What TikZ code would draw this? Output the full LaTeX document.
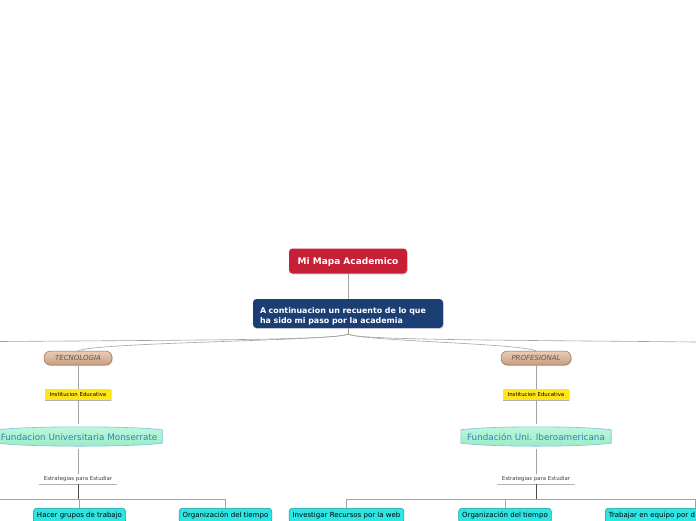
\documentclass[tikz,border=0pt]{standalone}
\usepackage{fontspec}
\setmainfont{DejaVu Sans}
\usetikzlibrary{calc,shadows}
\definecolor{titlered}{HTML}{C61F36}
\definecolor{introblue}{HTML}{1B3E74}
\definecolor{tantop}{HTML}{ECCDB5}
\definecolor{tanbot}{HTML}{C79E80}
\definecolor{tanline}{HTML}{8C6B57}
\definecolor{yel}{HTML}{FFE619}
\definecolor{minttop}{HTML}{BDF8DC}
\definecolor{mintbot}{HTML}{9CEAC6}
\definecolor{mintline}{HTML}{7CC3E0}
\definecolor{minttext}{HTML}{2A86B6}
\definecolor{cyanfill}{HTML}{2BE6E3}
\definecolor{cyanline}{HTML}{1E9A9E}
\definecolor{conngray}{HTML}{A3A3A3}
\begin{document}
\begin{tikzpicture}[x=1pt,y=-1pt,
  shad/.style={drop shadow={opacity=0.25,shadow xshift=0.8pt,shadow yshift=-1pt}},
  titlebox/.style={shad,fill=titlered,rounded corners=3.5pt,text=white,font=\fontsize{9}{11}\selectfont\bfseries,minimum width=118pt,minimum height=25pt,inner sep=0pt,text depth=0pt},
  introbox/.style={shad,fill=introblue,rounded corners=3.5pt,text=white,font=\fontsize{7.9}{10}\selectfont\bfseries,text width=176pt,align=left,inner xsep=7pt,inner ysep=0pt,minimum height=29pt},
  catbox/.style={shad,draw=tanline,line width=0.5pt,top color=tantop,bottom color=tanbot,rounded corners=6.5pt,text=black!65,font=\fontsize{7}{8}\selectfont\itshape,minimum height=14pt,inner sep=0pt},
  instbox/.style={fill=yel,font=\fontsize{5.4}{6}\selectfont,minimum height=11pt,minimum width=66pt,inner sep=0pt},
  uninode/.style={text=minttext,font=\fontsize{8.8}{10}\selectfont,minimum height=19pt,inner sep=0pt},
  estnode/.style={text=black!75,font=\fontsize{5.4}{6}\selectfont,minimum height=10pt,minimum width=77pt,inner sep=0pt},
  leafbox/.style={draw=cyanline,line width=0.5pt,fill=cyanfill,rounded corners=3pt,font=\fontsize{7}{8}\selectfont,minimum height=15pt,inner xsep=3.5pt,inner ysep=0pt,anchor=north},
  conn/.style={draw=conngray,line width=0.6pt},
  dark/.style={draw=black!70,line width=0.9pt},
  uline/.style={draw=black!30,line width=0.8pt}
]
\useasboundingbox (0,0) rectangle (696,520);
\clip (0,0) rectangle (696,520);
\fill[white] (0,0) rectangle (696,520);

% top nodes
\node[titlebox] (t) at (348,261) {Mi Mapa Academico};
\node[introbox] (i) at (348,313.5) {\rule{0pt}{11.5pt}A continuacion un recuento de lo que\\ha sido mi paso por la academia};
\coordinate (ij) at (348,334);
\coordinate (offL) at (0,341.5);
\coordinate (offR) at (696,342);

% categories
\node[catbox,minimum width=68pt] (tec) at (78,358) {TECNOLOGIA};
\node[catbox,minimum width=70pt] (pro) at (536,358) {PROFESIONAL};

% connectors from intro
\draw[conn] (t.south) -- (i.north);
\draw[conn] (i.south) -- (ij);
\draw[conn] (ij) .. controls (340,340) and (200,340) .. (offL);
\draw[conn] (ij) .. controls (335,341) and (100,342) .. (tec.north);
\draw[conn] (ij) .. controls (356,340) and (500,340) .. (offR);
\draw[conn] (ij) .. controls (361,341) and (515,343) .. (pro.north);

% institution
\node[instbox,shad] (y1) at (78,394.5) {Institucion Educativa};
\node[instbox,shad] (y2) at (536,394.5) {Institucion Educativa};
\draw[uline] (y1.south west) -- (y1.south east);
\draw[uline] (y2.south west) -- (y2.south east);

% universities
\node[uninode,minimum width=164pt] (f1) at (80,436.5) {};
\node[uninode,minimum width=150pt] (f2) at (536,436.5) {};
\foreach \f in {f1,f2}{
  \path[draw=mintline,line width=0.6pt,top color=minttop,bottom color=mintbot]
    ($(\f.north west)+(0,3)$) .. controls ($(\f.north west)+(30,-1)$) and ($(\f.north east)+(-30,-1)$) .. ($(\f.north east)+(0,3)$)
    -- ($(\f.south east)+(0,-3)$) .. controls ($(\f.south east)+(-30,1)$) and ($(\f.south west)+(30,1)$) .. ($(\f.south west)+(0,-3)$) -- cycle;
}
\node[uninode] (f1t) at (79,437) {Fundacion Universitaria Monserrate};
\node[uninode] (f2t) at (536,437) {Fundación Uni. Iberoamericana};

% strategies
\node[estnode] (e1) at (78,479) {Estrategias para Estudiar};
\node[estnode] (e2) at (536,479) {Estrategias para Estudiar};
\draw[uline] (e1.south west) -- (e1.south east);
\draw[uline] (e2.south west) -- (e2.south east);

% vertical connectors
\draw[conn] (tec.south) -- (y1.north);
\draw[conn] (pro.south) -- (y2.north);
\draw[conn] (y1.south) -- ($(f1.north)+(-2,-3)$);
\draw[conn] (y2.south) -- ($(f2.north)+(0,-3)$);
\draw[conn] ($(f1.south)+(-2,3)$) -- (e1.north);
\draw[conn] ($(f2.south)+(0,3)$) -- (e2.north);

% leaves
\node[leafbox] (c1) at (79.5,508) {Hacer grupos de trabajo};
\node[leafbox] (c2) at (225.5,508) {Organización del tiempo};
\node[leafbox] (c3) at (346.5,508) {Investigar Recursos por la web};
\node[leafbox] (c4) at (505,508) {Organización del tiempo};
\node[leafbox,anchor=north west,minimum width=182pt,text width=175pt,align=left] (c5) at (605,508) {Trabajar en equipo por d};
\coordinate (c5top) at (695,508);

\coordinate (bL) at (78,499);
\coordinate (bR) at (536,499);
\coordinate (offBL) at (0,499);
\draw[conn] (offBL) -- (c2.north |- bL) -- (c2.north);
\draw[conn] (c1.north |- bL) -- (c1.north);
\draw[conn] (c3.north) -- (c3.north |- bR) -- (c5top |- bR) -- (c5top);
\draw[conn] (c4.north |- bR) -- (c4.north);
\draw[dark] (e1.south) -- (bL);
\draw[dark] (e2.south) -- (bR);
\end{tikzpicture}
\end{document}
